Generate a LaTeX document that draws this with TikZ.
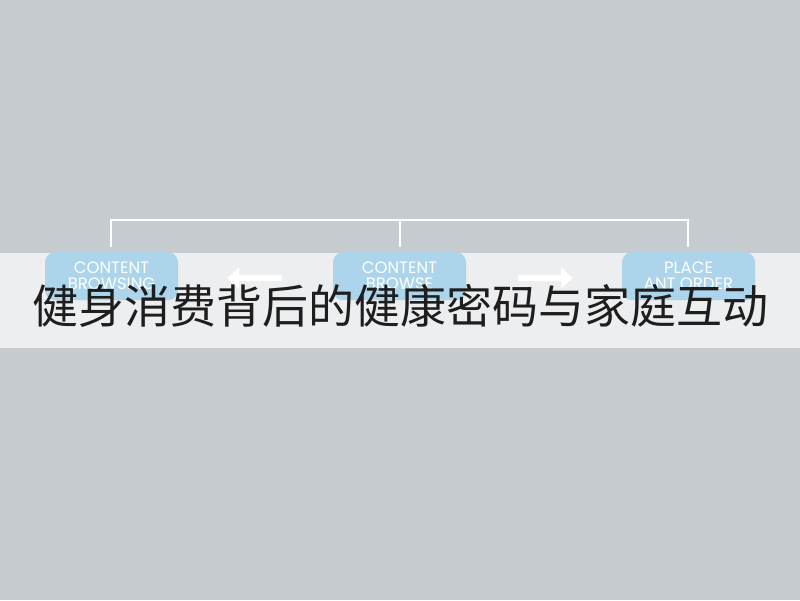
\documentclass[tikz,border=0pt]{standalone}
\usepackage{fontspec}
\newfontfamily\cjk{Noto Sans CJK SC}
\newfontfamily\boxfont{Poppins}
\usetikzlibrary{arrows.meta}
\definecolor{bgc}{HTML}{C5CBCE}
\definecolor{bandc}{HTML}{ECEEEF}
\definecolor{boxc}{HTML}{ACD5EC}
\definecolor{titlec}{HTML}{1E1E1E}
\tikzset{
  stepbox/.style={fill=boxc, rounded corners=10pt, minimum width=133pt, minimum height=48pt, inner sep=0pt, anchor=north,
    text=white, font=\boxfont\fontsize{16.5}{16}\selectfont, align=center},
  bracket/.style={draw=white, line width=2pt},
  flowarrow/.style={draw=white, line width=6pt, -{Triangle[length=12pt,width=20pt]}},
}
\begin{document}
\begin{tikzpicture}[x=1pt,y=-1pt]
\useasboundingbox (0,0) rectangle (800,600);
\fill[bgc] (0,0) rectangle (800,600);
\fill[bandc] (0,253) rectangle (800,348);
\coordinate (bl) at (111,220);
\coordinate (bm) at (400,220);
\coordinate (br) at (688,220);
\coordinate (bld) at (111,247);
\coordinate (bmd) at (400,247);
\coordinate (brd) at (688,247);
\draw[bracket] (bld) -- (bl) -- (br) -- (brd);
\draw[bracket] (bm) -- (bmd);
\node[stepbox] (b1) at (111.5,252) {CONTENT\\BROWSING};
\node[stepbox] (b2) at (399.5,252) {CONTENT\\BROWSE};
\node[stepbox] (b3) at (688.5,252) {PLACE\\ANT ORDER};
\coordinate (a1s) at (282,278);
\coordinate (a1e) at (227,278);
\coordinate (a2s) at (518,278);
\coordinate (a2e) at (573,278);
\draw[flowarrow] (a1s) -- (a1e);
\draw[flowarrow] (a2s) -- (a2e);
\node[text=titlec, font=\cjk\fontsize{46}{50}\selectfont, inner sep=0pt] (title) at (400,306) {健身消费背后的健康密码与家庭互动};
\end{tikzpicture}
\end{document}
